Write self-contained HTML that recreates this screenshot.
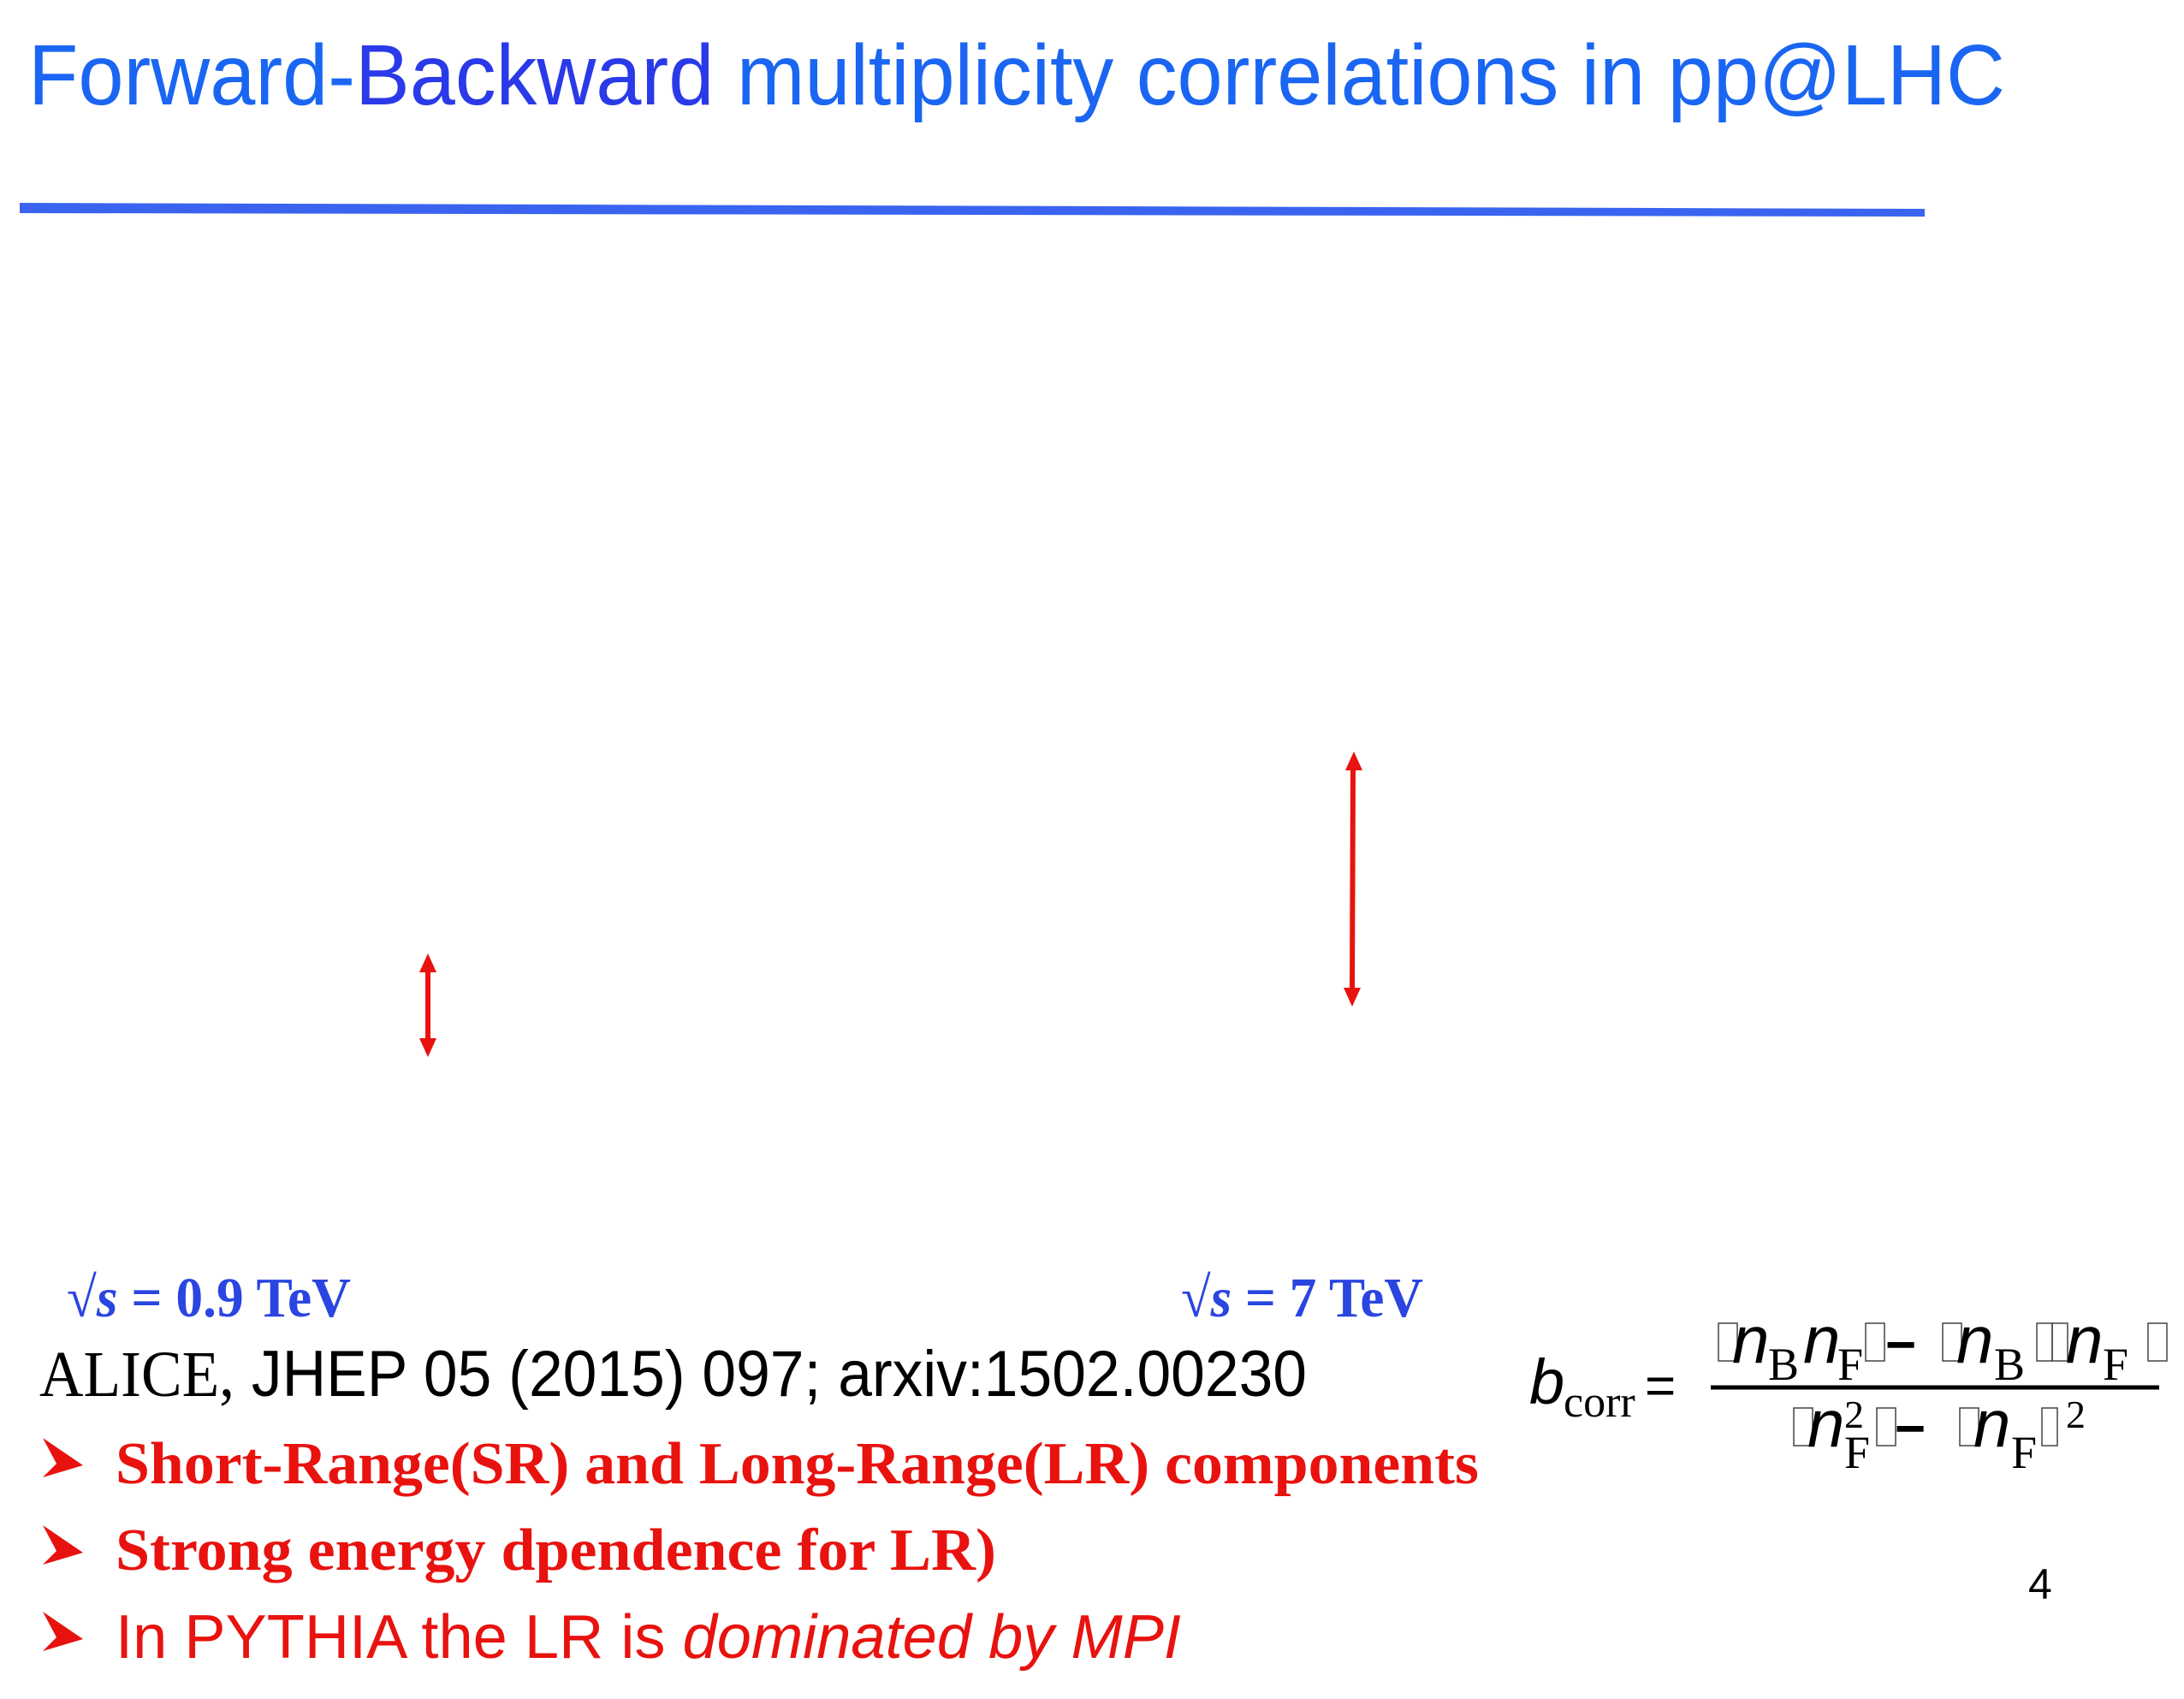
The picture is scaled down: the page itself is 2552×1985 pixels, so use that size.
<!DOCTYPE html>
<html><head><meta charset="utf-8"><style>html,body{margin:0;padding:0;background:#fff}svg{display:block}</style></head>
<body>
<svg width="2552" height="1985" viewBox="0 0 2552 1985" xmlns="http://www.w3.org/2000/svg">
<rect width="2552" height="1985" fill="#fff"/>
<text x="33" y="122" font-family="Liberation Sans, sans-serif" font-size="100" fill="#1a66f2" textLength="2310" lengthAdjust="spacingAndGlyphs">Forward-<tspan fill="#2a3ae8">Backward</tspan> multiplicity correlations in pp@LHC</text>
<polygon points="23,237 2249,244 2249,253 23,249" fill="#3a64f0"/>
<g fill="#e8120f" stroke="#e8120f">
<line x1="500" y1="1130" x2="500" y2="1220" stroke-width="6"/>
<polygon points="500,1114 490,1136 510,1136" stroke="none"/>
<polygon points="500,1235 490,1213 510,1213" stroke="none"/>
</g>
<g fill="#e8120f" stroke="#e8120f">
<line x1="1581" y1="895" x2="1580" y2="1160" stroke-width="6"/>
<polygon points="1582,878 1572,900 1592,900" stroke="none"/>
<polygon points="1580,1176 1570,1154 1590,1154" stroke="none"/>
</g>
<text x="78" y="1538" font-family="Liberation Serif, serif" font-weight="bold" font-size="66" fill="#2a45e0" textLength="332" lengthAdjust="spacingAndGlyphs">√<tspan font-style="italic">s</tspan> = 0.9 TeV</text>
<text x="1380" y="1538" font-family="Liberation Serif, serif" font-weight="bold" font-size="66" fill="#2a45e0" textLength="283" lengthAdjust="spacingAndGlyphs">√<tspan font-style="italic">s</tspan> = 7 TeV</text>
<text x="46" y="1631" font-size="76" fill="#000" textLength="1481" lengthAdjust="spacingAndGlyphs"><tspan font-family="Liberation Serif, serif">ALICE,</tspan><tspan font-family="Liberation Sans, sans-serif"> JHEP 05 (2015) 097; arxiv:1502.00230</tspan></text>
<g fill="#e8120f">
<polygon points="50,1680 97,1712 50,1726 66,1710"/>
<polygon points="50,1782 97,1814 50,1828 66,1812"/>
<polygon points="50,1883 97,1915 50,1929 66,1913"/>
</g>
<text x="135" y="1733" font-family="Liberation Serif, serif" font-weight="bold" font-size="70" fill="#e8120f" textLength="1593" lengthAdjust="spacingAndGlyphs">Short-Range(SR) and Long-Range(LR) components</text>
<text x="135" y="1834" font-family="Liberation Serif, serif" font-weight="bold" font-size="70" fill="#e8120f" textLength="1029" lengthAdjust="spacingAndGlyphs">Strong energy dpendence for LR)</text>
<text x="135" y="1937" font-family="Liberation Sans, sans-serif" font-size="72" fill="#e8120f" textLength="1245" lengthAdjust="spacingAndGlyphs">In PYTHIA the LR is <tspan font-style="italic">dominated by MPI</tspan></text>
<g fill="#000" font-family="Liberation Sans, sans-serif">
<text x="1787" y="1640" font-style="italic" font-size="74">b</text>
<text x="1827" y="1655" font-family="Liberation Serif, serif" font-size="52">corr</text>
<text x="1922" y="1640" font-size="62">=</text>
<line x1="1999" y1="1621" x2="2523" y2="1621" stroke="#000" stroke-width="5"/>
<g fill="none" stroke="#444" stroke-width="1.5">
<rect x="2008" y="1546" width="22" height="44"/><rect x="2180" y="1546" width="22" height="44"/>
<rect x="2270" y="1546" width="22" height="44"/><rect x="2380" y="1546" width="18" height="44"/>
<rect x="2398" y="1546" width="18" height="44"/><rect x="2510" y="1546" width="22" height="44"/>
<rect x="2096" y="1645" width="22" height="44"/><rect x="2193" y="1645" width="22" height="44"/>
<rect x="2290" y="1645" width="22" height="44"/><rect x="2386" y="1645" width="18" height="44"/>
</g>
<text x="2024" y="1592" font-style="italic" font-size="78">n</text>
<text x="2066" y="1612" font-family="Liberation Serif, serif" font-size="54">B</text>
<text x="2107" y="1592" font-style="italic" font-size="78">n</text>
<text x="2147" y="1612" font-family="Liberation Serif, serif" font-size="54">F</text>
<text x="2203" y="1592" font-weight="bold" font-size="62">−</text>
<text x="2286" y="1592" font-style="italic" font-size="78">n</text>
<text x="2330" y="1612" font-family="Liberation Serif, serif" font-size="54">B</text>
<text x="2414" y="1592" font-style="italic" font-size="78">n</text>
<text x="2457" y="1612" font-family="Liberation Serif, serif" font-size="54">F</text>
<text x="2112" y="1690" font-style="italic" font-size="78">n</text>
<text x="2155" y="1668" font-family="Liberation Serif, serif" font-size="46">2</text>
<text x="2155" y="1715" font-family="Liberation Serif, serif" font-size="54">F</text>
<text x="2214" y="1690" font-weight="bold" font-size="62">−</text>
<text x="2306" y="1690" font-style="italic" font-size="78">n</text>
<text x="2350" y="1715" font-family="Liberation Serif, serif" font-size="54">F</text>
<text x="2414" y="1668" font-family="Liberation Serif, serif" font-size="46">2</text>
</g>
<text x="2370" y="1868" font-family="Liberation Sans, sans-serif" font-size="50" fill="#000">4</text>
</svg>
</body></html>
